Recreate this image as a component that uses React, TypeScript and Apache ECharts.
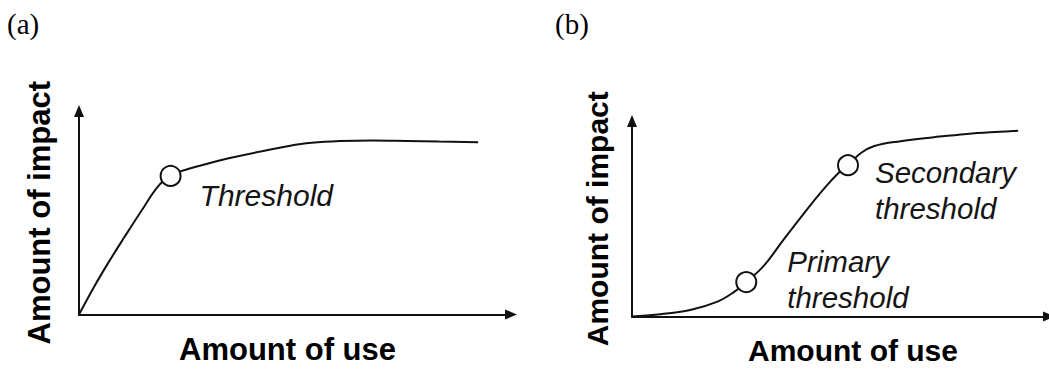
import React, { useEffect, useRef } from "react";
import * as echarts from "echarts";

// Panel (a): impact rises quickly and levels off after a single threshold
const useA = [0, 3.7, 6.8, 10.6, 14.5, 18.3, 21.2, 23.7, 29.9, 36.0, 44.9, 52.6, 60.3, 68.0, 75.7, 83.4, 92.4];
const impactA = [0, 14.4, 25.5, 38.3, 51.1, 63.0, 68.1, 70.5, 74.2, 77.4, 81.3, 84.2, 85.2, 85.5, 85.3, 85.0, 84.7];
const thresholdUseA = [21.2];
const thresholdImpactA = [68.1];
const thresholdNamesA = ["Threshold"];

// Panel (b): S-shaped response with primary and secondary thresholds
const useB = [0, 6.2, 14.2, 20.5, 24.5, 27.4, 31.6, 36.3, 41.1, 45.8, 49.8, 51.8, 54.9, 58.1, 64.4, 72.4, 80.3, 88.2, 92.6];
const impactB = [0, 1.0, 3.5, 7.6, 12.6, 17.6, 25.9, 39.2, 52.4, 64.8, 74.0, 77.4, 83.6, 87.2, 89.7, 91.7, 93.4, 94.5, 95.0];
const thresholdUseB = [27.4, 51.8];
const thresholdImpactB = [17.6, 77.4];
const thresholdNamesB = ["Primary\nthreshold", "Secondary\nthreshold"];

const panelTitles = ["(a)", "(b)"];
const xAxisName = "Amount of use";
const yAxisName = "Amount of impact";

const INK = "#111";
const SANS = "'Liberation Sans', Arial, sans-serif";
const SERIF = "'Liberation Serif', 'Times New Roman', serif";

function makeAxis(dim: "x" | "y", gridIndex: number, nameGap: number, fontSize: number, padding: number[]) {
  return {
    type: "value",
    gridIndex,
    min: 0,
    max: 100,
    name: dim === "x" ? xAxisName : yAxisName,
    nameLocation: "middle",
    nameGap,
    nameTextStyle: {
      fontFamily: SANS,
      fontWeight: "bold",
      fontSize,
      color: "#000",
      padding,
    },
    axisLine: {
      show: true,
      symbol: ["none", "triangle"],
      symbolSize: [10, 12],
      lineStyle: { color: INK, width: 2 },
    },
    axisTick: { show: false },
    axisLabel: { show: false },
    splitLine: { show: false },
  };
}

function curve(xs: number[], ys: number[], idx: number) {
  return {
    type: "line",
    xAxisIndex: idx,
    yAxisIndex: idx,
    data: xs.map((x, i) => [x, ys[i]]),
    smooth: 0.4,
    symbol: "none",
    lineStyle: { color: INK, width: 2 },
    z: 2,
  };
}

function thresholds(xs: number[], ys: number[], names: string[], offsets: number[][], fontSize: number, lineHeight: number, idx: number) {
  return {
    type: "scatter",
    xAxisIndex: idx,
    yAxisIndex: idx,
    symbol: "circle",
    symbolSize: 20,
    itemStyle: { color: "#fff", borderColor: INK, borderWidth: 2, opacity: 1 },
    z: 3,
    data: xs.map((x, i) => ({
      value: [x, ys[i]],
      name: names[i],
      label: {
        show: true,
        position: "right",
        distance: 5,
        offset: offsets[i],
        formatter: "{b}",
        align: "left",
        fontFamily: SANS,
        fontStyle: "italic",
        fontSize,
        lineHeight,
        color: "#151515",
        opacity: 1,
      },
    })),
  };
}

export default function App() {
  const ref = useRef<HTMLDivElement>(null);

  useEffect(() => {
    if (!ref.current) return;
    const chart = echarts.init(ref.current, null, { renderer: "svg" });
    chart.setOption({
      animation: false,
      backgroundColor: "#fff",
      title: panelTitles.map((t, i) => ({
        text: t,
        left: i === 0 ? 7 : 555,
        top: 9,
        padding: 0,
        textStyle: { fontFamily: SERIF, fontWeight: "normal", fontSize: 29, color: "#000" },
      })),
      grid: [
        { left: 79, top: 111, width: 432, height: 209 },
        { left: 632, top: 121, width: 422, height: 201 },
      ],
      xAxis: [
        makeAxis("x", 0, 19.5, 31, [0, 15, 0, 0]),
        makeAxis("x", 1, 18.5, 30, [0, 0, 0, 25]),
      ],
      yAxis: [
        makeAxis("y", 0, 24, 31, [0, 0, 0, 0]),
        makeAxis("y", 1, 20, 30, [0, 0, 0, 0]),
      ],
      series: [
        curve(useA, impactA, 0),
        thresholds(thresholdUseA, thresholdImpactA, thresholdNamesA, [[13, 20]], 30, 30, 0),
        curve(useB, impactB, 1),
        thresholds(thresholdUseB, thresholdImpactB, thresholdNamesB, [[25, -3], [11, 25]], 29.5, 36, 1),
      ],
    });
    return () => chart.dispose();
  }, []);

  return (
    <div
      ref={ref}
      style={{ position: "fixed", left: 0, top: 0, width: 1049, height: 370, background: "#fff" }}
    />
  );
}
